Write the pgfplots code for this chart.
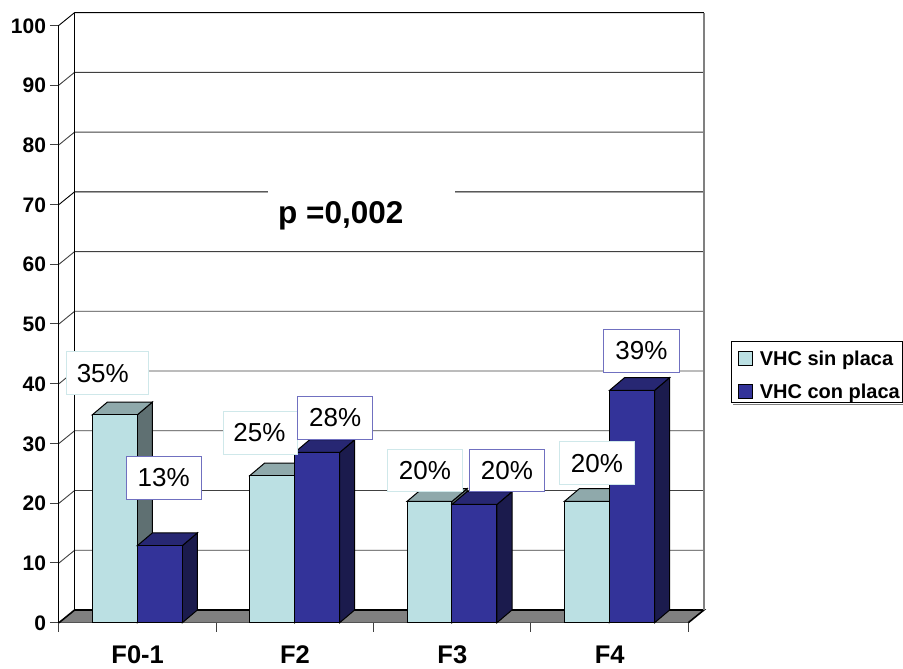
\documentclass[border=0pt]{standalone}
\usepackage{pgfplots}
\pgfplotsset{compat=1.18}
\usepackage{fontspec}
\setmainfont{Liberation Sans}
\definecolor{lightF}{HTML}{BBE0E3}
\definecolor{lightT}{HTML}{8FA9AB}
\definecolor{lightS}{HTML}{5F7072}
\definecolor{darkF}{HTML}{333399}
\definecolor{darkT}{HTML}{272773}
\definecolor{darkS}{HTML}{1B1B4D}
\definecolor{gridc}{HTML}{404040}
\definecolor{boxL}{HTML}{CFE8EA}
\definecolor{boxD}{HTML}{7070C0}
\def\bw{0.286}
\def\ddx{0.0954}
\def\ddy{2.126}
\def\wdx{0.0992}
\newcommand{\threedbar}[5]{%
  \pgfmathsetmacro\xa{#1+\bw}%
  \pgfmathsetmacro\xb{#1+\bw+\ddx}%
  \pgfmathsetmacro\xc{#1+\ddx}%
  \pgfmathsetmacro\yb{#2+\ddy}%
  \edef\temp{\noexpand\addplot[forget plot,fill=#5,draw=black,line width=1pt] coordinates {(\xa,0) (\xb,\ddy) (\xb,\yb) (\xa,#2)} --cycle;
  \noexpand\addplot[forget plot,fill=#4,draw=black,line width=1pt] coordinates {(#1,#2) (\xa,#2) (\xb,\yb) (\xc,\yb)} --cycle;
  \noexpand\addplot[forget plot,fill=#3,draw=black,line width=1pt] coordinates {(#1,0) (\xa,0) (\xa,#2) (#1,#2)} --cycle;}%
  \temp}
\newcommand{\wallline}[2]{%
  \pgfmathsetmacro\yb{#1+\ddy}%
  \pgfmathsetmacro\xb{4+\wdx}%
  \edef\temp{\noexpand\addplot[forget plot,draw=#2,line width=0.9pt] coordinates {(0,#1) (\wdx,\yb) (\xb,\yb)};}%
  \temp}
\tikzset{dl/.style={fill=white,line width=0.9pt,minimum height=42.5pt,inner sep=0pt,font=\fontsize{26}{28}\selectfont}}
\begin{document}
\begin{tikzpicture}[x=1pt,y=1pt]
\useasboundingbox (-59,-46.3) rectangle (844,622.7);
% legend shadow
\draw[gray,line width=1.5pt] (733-59,622.7-404.3) -- (844,622.7-404.3);
\begin{axis}[
  at={(0,0)},anchor=origin,
  scale only axis,width=629.3pt,height=597.4pt,
  xmin=0,xmax=4,ymin=0,ymax=100,
  clip=false,
  axis y line*=left,axis x line*=bottom,
  axis line style={draw=black,line width=1pt,-},
  xtick={0,1,2,3,4},
  xticklabels={F0-1,F2,F3,F4},
  x tick label as interval,
  ytick={0,10,...,100},
  tick align=outside,
  major tick length=9pt,
  tick style={draw=gridc,line width=1pt},
  /pgf/number format/assume math mode=true,
  yticklabel style={font=\fontsize{21}{24}\selectfont\bfseries,xshift=-0.5pt,yshift=-0.5pt},
  xticklabel style={font=\fontsize{25.5}{28}\selectfont\bfseries,inner sep=0pt,text height=18.3pt,text depth=0pt,yshift=-13.8pt},
  legend style={at={(1.068,0.472)},anchor=north west,draw=black,fill=white,line width=0.8pt,
    inner xsep=0.5pt,inner ysep=1pt,row sep=5.5pt,
    font=\fontsize{20}{24}\selectfont\bfseries,cells={anchor=west},
    nodes={inner sep=2pt,text height=21.5pt}},
  legend cell align=left,
  legend image code/.code={\path (0pt,0pt);\draw[#1,line width=0.8pt] (5.7pt,-10pt) rectangle (20.3pt,4pt);\path (25pt,0pt);},
]
% floor
\addplot[forget plot,fill=gray,draw=none] coordinates {(0,0) (4,0) (4.0992,2.126) (0.0992,2.126)} --cycle;
% walls
\wallline{10}{gridc}\wallline{20}{gridc}\wallline{30}{gridc}\wallline{40}{gridc}
\wallline{50}{gridc}\wallline{60}{gridc}\wallline{70}{black}\wallline{80}{gridc}
\wallline{90}{gridc}\wallline{100}{black}
\addplot[forget plot,draw=black,line width=1.6pt] coordinates {(0,0) (0.0992,2.126) (4.0992,2.126) (4,0)};
\addplot[forget plot,draw=black,line width=1pt] coordinates {(0.0992,2.126) (0.0992,102.126)};
\addplot[forget plot,draw=gray,line width=2pt] coordinates {(4.0992,2.126) (4.0992,102.126)};
% bars
\threedbar{0.212}{34.8}{lightF}{lightT}{lightS}
\threedbar{0.498}{12.9}{darkF}{darkT}{darkS}
\threedbar{1.212}{24.6}{lightF}{lightT}{lightS}
\threedbar{1.498}{28.5}{darkF}{darkT}{darkS}
\threedbar{2.212}{20.3}{lightF}{lightT}{lightS}
\threedbar{2.498}{19.8}{darkF}{darkT}{darkS}
\threedbar{3.212}{20.3}{lightF}{lightT}{lightS}
\threedbar{3.500}{38.9}{darkF}{darkT}{darkS}
\addlegendimage{fill=lightF,draw=black}
\addlegendentry{VHC sin placa}
\addlegendimage{fill=darkF,draw=black}
\addlegendentry{VHC con placa}
\end{axis}
% p value
\fill[white] (268-59,622.7-190) rectangle (455-59,622.7-236);
\node[font=\fontsize{31.5}{34}\selectfont\bfseries] at (340.8-59,622.7-216) {p =0,002};
% data labels
\node[dl,draw=boxL,minimum width=82.7pt] at (107.3-59,622.7-373.2) {\hspace*{-9pt}35\%};
\node[dl,draw=boxD,minimum width=75.3pt] at (163.7-59,622.7-477.8) {13\%};
\node[dl,draw=boxL,minimum width=74.4pt] at (260.5-59,622.7-433) {\hspace*{-2pt}25\%};
\node[dl,draw=boxD,minimum width=75pt] at (335.2-59,622.7-418) {28\%};
\node[dl,draw=boxL,minimum width=75.3pt] at (425-59,622.7-470.5) {20\%};
\node[dl,draw=boxD,minimum width=75.3pt] at (507-59,622.7-470.5) {20\%};
\node[dl,draw=boxL,minimum width=75.3pt] at (597-59,622.7-463.2) {20\%};
\node[dl,draw=boxD,minimum width=75.3pt] at (641.5-59,622.7-350.8) {39\%};
\end{tikzpicture}
\end{document}
